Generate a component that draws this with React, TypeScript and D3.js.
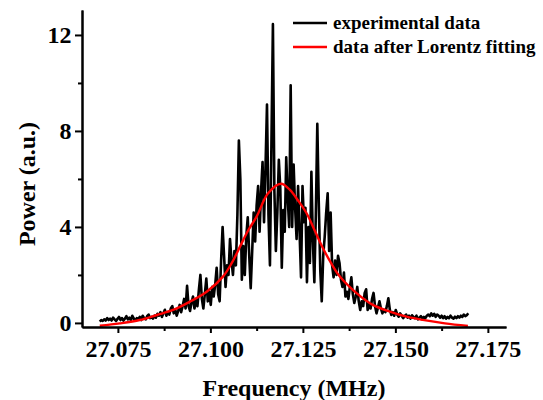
import { useEffect, useRef } from "react";
import * as d3 from "d3";

// experimental spectrum, sampled every 0.4 kHz from freqStart
const freqStart = 27.0701;
const freqStep = 0.0004;
const powerValues = [
  0.05, 0.12, 0.08, 0.15, 0.1, 0.2, 0.12, 0.18, 0.1, 0.22, 0.15, 0.08, 0.17, 0.25, 0.12, 0.2, 0.1, 0.18, 0.28, 0.15,
  0.22, 0.12, 0.3, 0.18, 0.1, 0.2, 0.15, 0.25, 0.12, 0.3, 0.2, 0.15, 0.28, 0.35, 0.2, 0.25, 0.18, 0.3, 0.22, 0.38,
  0.3, 0.45, 0.25, 0.4, 0.55, 0.3, 0.45, 0.35, 0.6, 0.7, 0.4, 0.55, 0.3, 0.5, 0.75, 0.45, 0.7, 1.0, 0.6, 1.55,
  0.7, 0.5, 0.85, 1.1, 0.6, 0.95, 0.7, 1.4, 2.0, 1.0, 0.6, 1.2, 1.85, 0.9, 1.3, 0.75, 1.5, 1.1, 1.6, 2.3,
  1.2, 0.9, 2.6, 4.0, 2.8, 1.5, 2.4, 2.0, 3.5, 2.6, 2.0, 3.0, 2.4, 4.5, 7.6, 6.0, 1.8, 3.2, 2.0, 3.6,
  4.4, 2.8, 1.45, 3.0, 4.6, 3.4, 4.9, 5.7, 3.8, 5.5, 6.7, 4.2, 6.5, 9.1, 4.5, 2.4, 7.5, 12.45, 5.5, 3.0,
  4.6, 6.8, 5.6, 2.3, 4.7, 3.8, 6.9, 5.2, 4.0, 9.9, 4.0, 6.6, 4.8, 3.5, 5.7, 3.8, 1.9, 5.7, 4.2, 4.8,
  1.7, 4.0, 2.5, 6.3, 3.4, 1.7, 4.5, 8.3, 5.0, 2.2, 0.9, 2.8, 3.6, 4.6, 5.4, 3.0, 4.6, 2.4, 1.9, 2.6,
  2.0, 2.8, 2.5, 1.8, 1.5, 2.1, 1.1, 1.3, 1.0, 1.5, 1.9, 1.2, 0.83, 1.1, 1.5, 0.9, 0.54, 0.9, 0.7, 1.25,
  1.4, 0.54, 0.8, 0.6, 1.0, 1.25, 0.7, 0.4, 0.65, 0.9, 0.6, 0.4, 0.55, 0.45, 0.7, 1.03, 0.55, 0.33, 0.45, 0.3,
  0.54, 0.35, 0.26, 0.4, 0.3, 0.2, 0.28, 0.35, 0.22, 0.3, 0.18, 0.32, 0.25, 0.2, 0.3, 0.15, 0.22, 0.28, 0.18, 0.25,
  0.2, 0.3, 0.35, 0.28, 0.4, 0.3, 0.38, 0.25, 0.35, 0.3, 0.22, 0.3, 0.2, 0.28, 0.18, 0.25, 0.2, 0.3, 0.22, 0.18,
  0.26, 0.2, 0.28, 0.22, 0.3, 0.25, 0.35, 0.28, 0.32, 0.4,
];

// Lorentz fit
const fitFreqs = [
  27.0701, 27.0755, 27.0809, 27.0855, 27.0899, 27.0945, 27.099, 27.1034, 27.1058, 27.108, 27.1102, 27.1125, 27.1156,
  27.1191, 27.1215, 27.1237, 27.126, 27.1282, 27.1304, 27.1326, 27.135, 27.1395, 27.1439, 27.1485, 27.153, 27.1574,
  27.1634, 27.1696,
];
const fitValues = [
  -0.12, -0.02, 0.12, 0.33, 0.54, 0.89, 1.3, 1.93, 2.5, 3.18, 3.85, 4.43, 5.4, 5.8, 5.54, 5.1, 4.57, 3.85, 3.125, 2.5,
  1.93, 1.24, 0.75, 0.47, 0.26, 0.125, -0.02, -0.13,
];

const yMajorTicks = [0, 4, 8, 12];
const yMinorTicks = [2, 6, 10];
const xMajorTicks = [27.075, 27.1, 27.125, 27.15, 27.175];
const xMinorTicks = [27.0875, 27.1125, 27.1375, 27.1625];
const legendLabels = ["experimental data", "data after Lorentz fitting"];
const legendColors = ["#000000", "#ff0000"];

const App = () => {
  const svgRef = useRef<SVGSVGElement>(null);

  useEffect(() => {
    const svg = d3.select(svgRef.current);
    svg.selectAll("*").remove();

    const width = 543;
    const height = 400;
    const margin = { top: 10, right: 37, bottom: 73, left: 82 };
    const font = "'Liberation Serif', 'Times New Roman', serif";

    const x = d3.scaleLinear().domain([27.0653, 27.1799]).range([margin.left, width - margin.right]);
    const y = d3.scaleLinear().domain([-0.17, 13.04]).range([height - margin.bottom, margin.top]);

    // curves
    const expData: [number, number][] = powerValues.map((v, i) => [freqStart + i * freqStep, v]);
    const fitData: [number, number][] = fitFreqs.map((f, i) => [f, fitValues[i]]);

    const line = d3
      .line<[number, number]>()
      .x((d) => x(d[0]))
      .y((d) => y(d[1]));

    svg
      .append("path")
      .datum(expData)
      .attr("fill", "none")
      .attr("stroke", legendColors[0])
      .attr("stroke-width", 2.6)
      .attr("stroke-linejoin", "round")
      .attr("d", line);

    svg
      .append("path")
      .datum(fitData)
      .attr("fill", "none")
      .attr("stroke", legendColors[1])
      .attr("stroke-width", 2.4)
      .attr("d", line.curve(d3.curveCatmullRom));

    // axes
    const styleAxis = (g) => {
      g.attr("font-family", font).attr("font-size", 24).attr("font-weight", "bold");
      g.selectAll("path, line").attr("stroke", "#000").attr("stroke-width", 2);
      g.selectAll("text").attr("fill", "#000");
    };

    svg
      .append("g")
      .attr("transform", `translate(0,${height - margin.bottom})`)
      .call(d3.axisBottom(x).tickValues(xMinorTicks).tickSize(4).tickSizeOuter(0).tickFormat(() => ""))
      .call(styleAxis);
    svg
      .append("g")
      .attr("transform", `translate(0,${height - margin.bottom})`)
      .call(
        d3.axisBottom(x).tickValues(xMajorTicks).tickSize(6).tickSizeOuter(0).tickPadding(7).tickFormat(d3.format(".3f"))
      )
      .call(styleAxis);

    svg
      .append("g")
      .attr("transform", `translate(${margin.left},0)`)
      .call(d3.axisLeft(y).tickValues(yMinorTicks).tickSize(4).tickSizeOuter(0).tickFormat(() => ""))
      .call(styleAxis);
    svg
      .append("g")
      .attr("transform", `translate(${margin.left},0)`)
      .call(d3.axisLeft(y).tickValues(yMajorTicks).tickSize(7).tickSizeOuter(0).tickPadding(3.5).tickFormat(d3.format("d")))
      .call(styleAxis);

    // axis titles
    svg
      .append("text")
      .attr("x", 294)
      .attr("y", 396)
      .attr("text-anchor", "middle")
      .attr("font-family", font)
      .attr("font-size", 24)
      .attr("font-weight", "bold")
      .text("Frequency (MHz)");

    svg
      .append("text")
      .attr("transform", "translate(35,184) rotate(-90)")
      .attr("text-anchor", "middle")
      .attr("font-family", font)
      .attr("font-size", 24)
      .attr("font-weight", "bold")
      .text("Power (a.u.)");

    // legend
    const legend = svg
      .append("g")
      .selectAll("g")
      .data(legendLabels)
      .join("g")
      .attr("transform", (_, i) => `translate(293,${23 + i * 24})`);

    legend
      .append("line")
      .attr("x1", 0)
      .attr("x2", 34)
      .attr("stroke", (_, i) => legendColors[i])
      .attr("stroke-width", 2.5);

    legend
      .append("text")
      .attr("x", 40)
      .attr("y", 6)
      .attr("font-family", font)
      .attr("font-size", 19)
      .attr("font-weight", "bold")
      .text((d) => d);
  }, []);

  return (
    <svg
      ref={svgRef}
      width={543}
      height={400}
      style={{ position: "absolute", left: 0, top: 0, background: "#fff" }}
    />
  );
};

export default App;
